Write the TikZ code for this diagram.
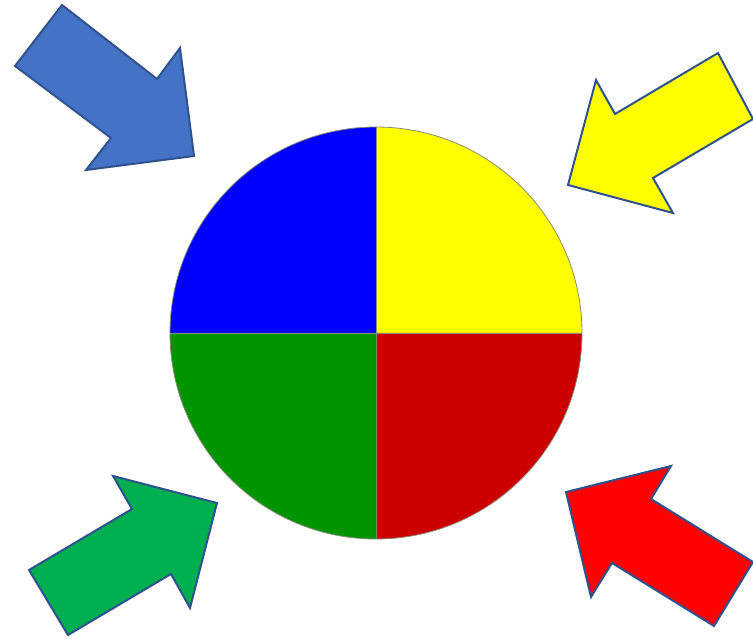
\documentclass[tikz,border=0pt]{standalone}
\usetikzlibrary{calc}
\begin{document}
\begin{tikzpicture}[x=1pt,y=-1pt,
  arrowshape/.style={draw=arrowedge,line width=2pt,line join=miter},
  quad/.style={draw=quadedge,line width=0.8pt}]
\definecolor{arrowedge}{HTML}{2F528F}
\definecolor{quadedge}{HTML}{8A8A7A}
\definecolor{arrblue}{HTML}{4472C4}
\definecolor{arryellow}{HTML}{FFFF00}
\definecolor{arrgreen}{HTML}{00B050}
\definecolor{arrred}{HTML}{FF0000}
\definecolor{qblue}{HTML}{0000FF}
\definecolor{qyellow}{HTML}{FFFF00}
\definecolor{qgreen}{HTML}{009400}
\definecolor{qred}{HTML}{CC0000}
\useasboundingbox (0,0) rectangle (753,639);
\clip (0,0) rectangle (753,639);
% circle quadrants (y axis points down, so angles run clockwise on the page)
\coordinate (c) at (376,333);
\def\rr{206}
\fill[qblue] (c) -- ++(-\rr,0) arc[start angle=180,end angle=270,radius=\rr] -- cycle;
\fill[qyellow] (c) -- ++(0,-\rr) arc[start angle=270,end angle=360,radius=\rr] -- cycle;
\fill[qred] (c) -- ++(\rr,0) arc[start angle=0,end angle=90,radius=\rr] -- cycle;
\fill[qgreen] (c) -- ++(0,\rr) arc[start angle=90,end angle=180,radius=\rr] -- cycle;
\draw[quad] (c) circle[radius=\rr];
\draw[quad] ($(c)+(-\rr,0)$) -- ($(c)+(\rr,0)$);
\draw[quad] ($(c)+(0,-\rr)$) -- ($(c)+(0,\rr)$);
% arrows
\draw[arrowshape,fill=arrblue] (62,5) -- (157,79) -- (180,48) -- (194,156) -- (86,170) -- (111,138) -- (15,66) -- cycle;
\draw[arrowshape,fill=arryellow] (718,53) -- (753,119) -- (653,178) -- (673,213) -- (568,185) -- (596,80) -- (615,114) -- cycle;
\draw[arrowshape,fill=arrgreen] (113,476) -- (217,503) -- (190,608) -- (171,574) -- (68,635) -- (29,570) -- (132,509) -- cycle;
\draw[arrowshape,fill=arrred] (671,466) -- (651,499) -- (753,562) -- (714,626) -- (612,563) -- (591,597) -- (566,492) -- cycle;
\end{tikzpicture}
\end{document}
